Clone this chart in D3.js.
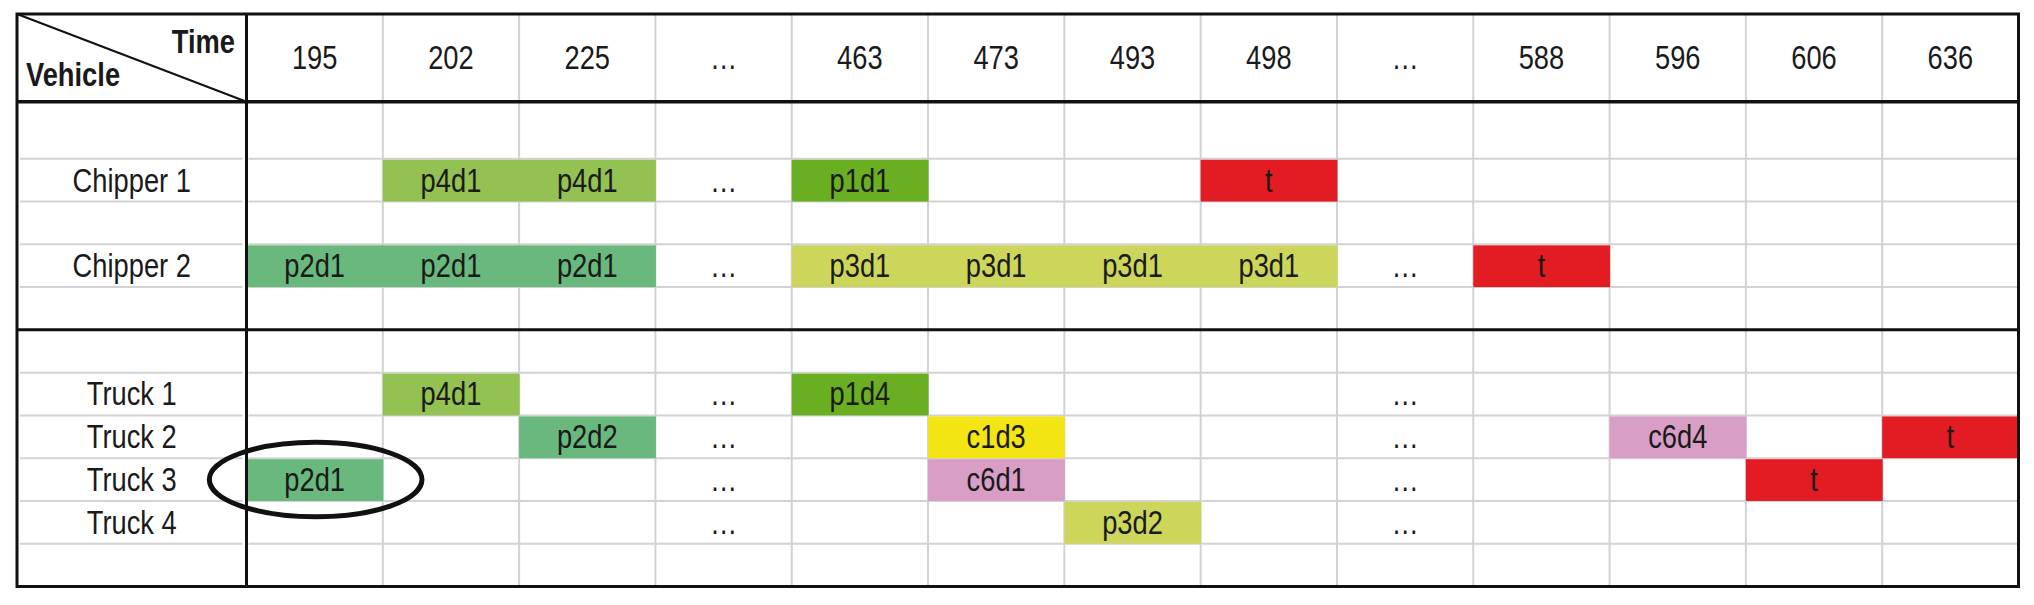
<!DOCTYPE html>
<html>
<head>
<meta charset="utf-8">
<script src="https://cdn.jsdelivr.net/npm/d3@7"></script>
<style>
  body { margin: 0; background: #fff; }
  text { font-family: "Liberation Sans", Arial, sans-serif; fill: #1a1a1a; }
</style>
</head>
<body>
<div id="chart"></div>
<script>
// Column headers (time), "…" marks skipped periods
const times = ["195", "202", "225", "…", "463", "473", "493", "498", "…", "588", "596", "606", "636"];

// Task in each time column, one array per vehicle
const chipper1 = ["", "p4d1", "p4d1", "…", "p1d1", "", "", "t", "", "", "", "", ""];
const chipper2 = ["p2d1", "p2d1", "p2d1", "…", "p3d1", "p3d1", "p3d1", "p3d1", "…", "t", "", "", ""];
const truck1 = ["", "p4d1", "", "…", "p1d4", "", "", "", "…", "", "", "", ""];
const truck2 = ["", "", "p2d2", "…", "", "c1d3", "", "", "…", "", "c6d4", "", "t"];
const truck3 = ["p2d1", "", "", "…", "", "c6d1", "", "", "…", "", "", "t", ""];
const truck4 = ["", "", "", "…", "", "", "p3d2", "", "…", "", "", "", ""];

const chippers = ["Chipper 1", "Chipper 2"];
const trucks = ["Truck 1", "Truck 2", "Truck 3", "Truck 4"];

// Task colours
const tasks = ["p4d1", "p2d1", "p2d2", "p1d1", "p1d4", "p3d1", "p3d2", "c1d3", "c6d1", "c6d4", "t"];
const taskColors = ["#93c152", "#69b87d", "#69b87d", "#6aae22", "#6aae22", "#cbd65b", "#cbd65b", "#f3e514", "#d89ec5", "#d89ec5", "#e31b23"];

// Highlighted cell (circled)
const highlight = { vehicle: "Truck 3", col: 0 };

const W = 2034, H = 605;
const frameLeft = 17, frameTop = 14, frameRight = 2018.5, frameBottom = 586.5;
const labelRight = 246.5, headerBottom = 101.7;
const fs = 32.5, narrow = 0.84; // condensed look

const schedule = {
  "Chipper 1": chipper1, "Chipper 2": chipper2,
  "Truck 1": truck1, "Truck 2": truck2, "Truck 3": truck3, "Truck 4": truck4
};

// Row slots: chippers separated by spacer rows, trucks packed
const slots = ["s0", chippers[0], "s1", chippers[1], "s2", "s3", ...trucks, "s4"];
const sectionStarts = ["s0", "s3"];

const svg = d3.select("#chart").append("svg")
  .attr("width", W).attr("height", H);

const x = d3.scaleBand()
  .domain(d3.range(times.length))
  .range([labelRight, frameRight]);

const y = d3.scaleBand()
  .domain(slots)
  .range([headerBottom + 14.3, frameBottom]);

const color = d3.scaleOrdinal().domain(tasks).range(taskColors);

const bw = x.bandwidth(), bh = y.bandwidth();

// place text at a point, squeezed horizontally
const at = (px, py) => `translate(${px},${py}) scale(${narrow},1)`;

// Light grid
const grid = svg.append("g").attr("stroke", "#d2d2d2").attr("stroke-width", 2);
grid.selectAll(".vline")
  .data(d3.range(1, times.length))
  .join("line")
  .attr("x1", d => x(d)).attr("x2", d => x(d))
  .attr("y1", frameTop).attr("y2", frameBottom);

const hLines = slots.filter(s => !sectionStarts.includes(s));
grid.selectAll(".hl")
  .data(hLines)
  .join("line")
  .attr("x1", frameLeft + 3).attr("x2", labelRight - 4)
  .attr("y1", d => y(d)).attr("y2", d => y(d));
grid.selectAll(".hb")
  .data(hLines)
  .join("line")
  .attr("x1", labelRight + 2).attr("x2", frameRight)
  .attr("y1", d => y(d)).attr("y2", d => y(d));

// Cells
const rows = chippers.concat(trucks);
const cells = rows.flatMap(v => schedule[v].map((task, i) => ({ vehicle: v, col: i, task })))
  .filter(d => d.task !== "");

svg.append("g").selectAll("rect")
  .data(cells.filter(d => d.task !== "…"))
  .join("rect")
  .attr("x", d => x(d.col))
  .attr("y", d => y(d.vehicle) + 1)
  .attr("width", bw + 0.5)
  .attr("height", bh - 1)
  .attr("fill", d => color(d.task));

// Thick frame lines
const frame = svg.append("g").attr("stroke", "#111").attr("fill", "none");
frame.append("rect")
  .attr("x", frameLeft).attr("y", frameTop)
  .attr("width", frameRight - frameLeft).attr("height", frameBottom - frameTop)
  .attr("stroke-width", 3);
frame.append("line")
  .attr("x1", labelRight).attr("x2", labelRight)
  .attr("y1", frameTop).attr("y2", frameBottom)
  .attr("stroke-width", 3);
frame.append("line")
  .attr("x1", frameLeft).attr("x2", frameRight)
  .attr("y1", headerBottom).attr("y2", headerBottom)
  .attr("stroke-width", 3.5);
frame.append("line")
  .attr("x1", frameLeft).attr("x2", frameRight)
  .attr("y1", y("s3")).attr("y2", y("s3"))
  .attr("stroke-width", 3);
frame.append("line")
  .attr("x1", frameLeft).attr("y1", frameTop)
  .attr("x2", labelRight).attr("y2", headerBottom)
  .attr("stroke-width", 2);

// Header
svg.append("text")
  .attr("transform", at(235, 53))
  .attr("text-anchor", "end")
  .style("font-size", fs + "px").style("font-weight", "bold")
  .text("Time");
svg.append("text")
  .attr("transform", at(26, 86))
  .style("font-size", fs + "px").style("font-weight", "bold")
  .text("Vehicle");

svg.append("g").selectAll("text")
  .data(times)
  .join("text")
  .attr("transform", (d, i) => at(x(i) + bw / 2, (frameTop + headerBottom) / 2))
  .attr("dy", "0.35em")
  .attr("text-anchor", "middle")
  .style("font-size", fs + "px")
  .text(d => d);

// Vehicle labels
svg.append("g").selectAll("text")
  .data(rows)
  .join("text")
  .attr("transform", d => at((frameLeft + labelRight) / 2, y(d) + bh / 2))
  .attr("dy", "0.35em")
  .attr("text-anchor", "middle")
  .style("font-size", fs + "px")
  .text(d => d);

// Task labels and skip marks
svg.append("g").selectAll("text")
  .data(cells)
  .join("text")
  .attr("transform", d => at(x(d.col) + bw / 2, y(d.vehicle) + bh / 2))
  .attr("dy", "0.35em")
  .attr("text-anchor", "middle")
  .style("font-size", fs + "px")
  .text(d => d.task);

// Highlight ellipse
svg.append("ellipse")
  .attr("cx", x(highlight.col) + bw / 2 + 1)
  .attr("cy", y(highlight.vehicle) + bh / 2)
  .attr("rx", bw * 0.78)
  .attr("ry", bh * 0.87)
  .attr("fill", "none")
  .attr("stroke", "#111")
  .attr("stroke-width", 5);
</script>
</body>
</html>
